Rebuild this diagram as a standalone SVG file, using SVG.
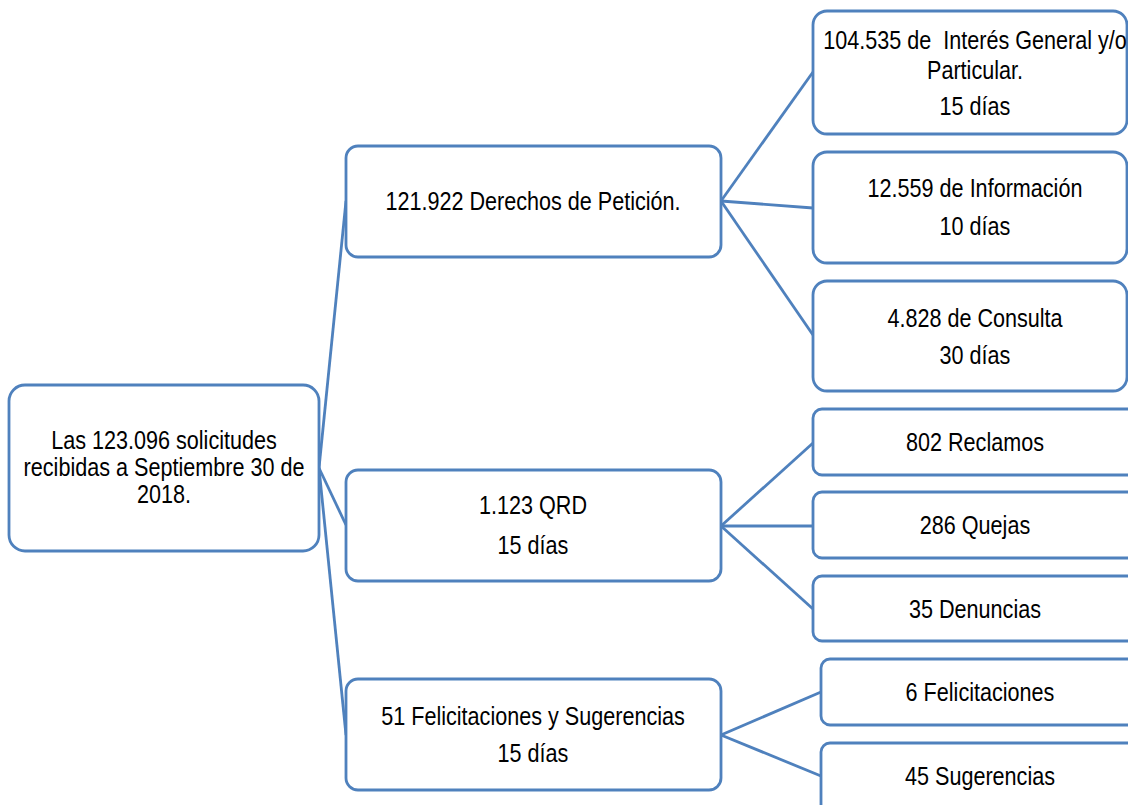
<svg xmlns="http://www.w3.org/2000/svg" width="1128" height="805" viewBox="0 0 1128 805">
<style>
.box{fill:#ffffff;stroke:#4f81bd;stroke-width:2.8}
.c{stroke:#4f81bd;stroke-width:2.8;fill:none}
text{font-family:"Liberation Sans",Arial,sans-serif;font-size:21.6px;fill:#000;text-anchor:middle}
</style>
<rect width="1128" height="805" fill="#ffffff"/>
<g id="connectors">
<line class="c" x1="319" y1="468" x2="346" y2="201"/>
<line class="c" x1="319" y1="468" x2="346" y2="525"/>
<line class="c" x1="319" y1="468" x2="346" y2="735"/>
<line class="c" x1="721" y1="201" x2="813" y2="72"/>
<line class="c" x1="721" y1="201" x2="813" y2="208"/>
<line class="c" x1="721" y1="201" x2="813" y2="335"/>
<line class="c" x1="721" y1="526" x2="813" y2="443"/>
<line class="c" x1="721" y1="526" x2="813" y2="526"/>
<line class="c" x1="721" y1="526" x2="813" y2="609"/>
<line class="c" x1="721" y1="735" x2="821" y2="692"/>
<line class="c" x1="721" y1="735" x2="821" y2="776"/>
</g>
<g id="root">
<rect class="box" x="9" y="385" width="310" height="166" rx="16"/>
<text transform="translate(164,449) scale(1,1.18)">Las 123.096 solicitudes</text>
<text transform="translate(164,476) scale(1,1.18)">recibidas a Septiembre 30 de</text>
<text transform="translate(164,503) scale(1,1.18)">2018.</text>
</g>
<g id="peticion">
<rect class="box" x="346" y="146" width="375" height="111" rx="12"/>
<text transform="translate(533,210) scale(1,1.18)">121.922 Derechos de Petición.</text>
</g>
<g id="qrd">
<rect class="box" x="346" y="470" width="375" height="111" rx="12"/>
<text transform="translate(533,514) scale(1,1.18)">1.123 QRD</text>
<text transform="translate(533,554) scale(1,1.18)">15 días</text>
</g>
<g id="felsug">
<rect class="box" x="346" y="679" width="375" height="111" rx="12"/>
<text transform="translate(533,725) scale(1,1.18)">51 Felicitaciones y Sugerencias</text>
<text transform="translate(533,762) scale(1,1.18)">15 días</text>
</g>
<g id="interes">
<rect class="box" x="813" y="11" width="314" height="123" rx="14"/>
<text xml:space="preserve" transform="translate(975,49) scale(1,1.18)">104.535 de  Interés General y/o</text>
<text transform="translate(975,79) scale(1,1.18)">Particular.</text>
<text transform="translate(975,115) scale(1,1.18)">15 días</text>
</g>
<g id="informacion">
<rect class="box" x="813" y="152" width="314" height="111" rx="14"/>
<text transform="translate(975,197) scale(1,1.18)">12.559 de Información</text>
<text transform="translate(975,235) scale(1,1.18)">10 días</text>
</g>
<g id="consulta">
<rect class="box" x="813" y="281" width="314" height="110" rx="14"/>
<text transform="translate(975,327) scale(1,1.18)">4.828 de Consulta</text>
<text transform="translate(975,364) scale(1,1.18)">30 días</text>
</g>
<g id="reclamos">
<rect class="box" x="813" y="409" width="330" height="66" rx="9"/>
<text transform="translate(975,451) scale(1,1.18)">802 Reclamos</text>
</g>
<g id="quejas">
<rect class="box" x="813" y="492" width="330" height="66" rx="9"/>
<text transform="translate(975,534) scale(1,1.18)">286 Quejas</text>
</g>
<g id="denuncias">
<rect class="box" x="813" y="576" width="330" height="65" rx="9"/>
<text transform="translate(975,618) scale(1,1.18)">35 Denuncias</text>
</g>
<g id="felicitaciones">
<rect class="box" x="821" y="659" width="320" height="66" rx="9"/>
<text transform="translate(980,701) scale(1,1.18)">6 Felicitaciones</text>
</g>
<g id="sugerencias">
<rect class="box" x="821" y="743" width="320" height="80" rx="9"/>
<text transform="translate(980,785) scale(1,1.18)">45 Sugerencias</text>
</g>
</svg>
